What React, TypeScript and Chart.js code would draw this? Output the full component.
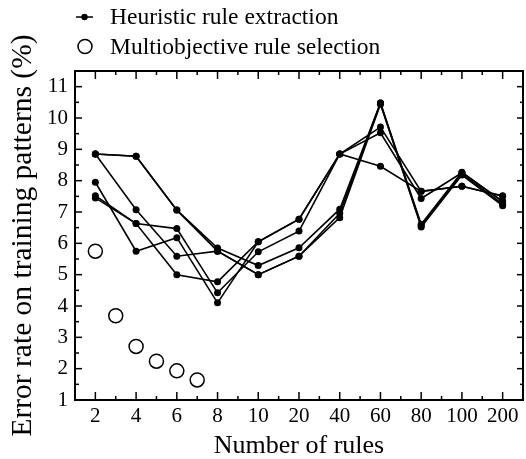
import React, { useEffect, useRef } from "react";
import { Chart, registerables } from "chart.js";

Chart.register(...registerables);

// Category axis (number of rules)
const CATEGORIES = ["2", "4", "6", "8", "10", "20", "40", "60", "80", "100", "200"];

// Heuristic rule extraction: six curves (error rate %, one value per category)
const HEURISTIC_1 = [8.85, 8.78, 7.06, 5.85, 5.29, 5.86, 7.09, 10.48, 6.61, 8.27, 7.32];
const HEURISTIC_2 = [8.85, 8.78, 7.06, 5.75, 5.0, 5.59, 6.96, 10.48, 6.52, 8.18, 7.2];
const HEURISTIC_3 = [8.85, 7.07, 5.59, 5.75, 5.0, 5.59, 6.82, 10.44, 6.56, 8.22, 7.25];
const HEURISTIC_4 = [7.95, 5.75, 6.18, 4.1, 6.05, 6.77, 8.85, 9.71, 7.66, 7.82, 7.52];
const HEURISTIC_5 = [7.52, 6.63, 6.47, 4.42, 5.73, 6.39, 8.85, 9.53, 7.43, 8.25, 7.35];
const HEURISTIC_6 = [7.45, 6.63, 5.0, 4.77, 6.05, 6.77, 8.85, 8.46, 7.66, 7.82, 7.5];

// Multiobjective rule selection: number of rules and error rate
const MULTI_RULES = [2, 3, 4, 5, 6, 7];
const MULTI_ERROR = [5.75, 3.69, 2.71, 2.24, 1.93, 1.64];

const Y_TICKS = [1, 2, 3, 4, 5, 6, 7, 8, 9, 10, 11];

const LABEL_HEURISTIC = "Heuristic rule extraction";
const LABEL_MULTI = "Multiobjective rule selection";

const FONT = "'Liberation Serif', 'Times New Roman', serif";

// position of a rule count on the category axis (interpolated between neighbouring categories)
function rulePosition(r: number): number {
  const nums = CATEGORIES.map(Number);
  for (let i = 0; i < nums.length - 1; i++) {
    if (r >= nums[i] && r <= nums[i + 1]) {
      return i + (r - nums[i]) / (nums[i + 1] - nums[i]);
    }
  }
  return nums.length - 1;
}

const framePlugin = {
  id: "frame",
  afterDatasetsDraw(chart: any) {
    const { ctx, chartArea, scales } = chart;
    const { left, right, top, bottom } = chartArea;
    const x = scales.x;
    const y = scales.y;
    ctx.save();
    ctx.strokeStyle = "#000";
    const seg = (x1: number, y1: number, x2: number, y2: number) => {
      ctx.beginPath();
      ctx.moveTo(x1, y1);
      ctx.lineTo(x2, y2);
      ctx.stroke();
    };
    ctx.lineWidth = 1.5;
    CATEGORIES.forEach((_, i) => {
      const px = x.getPixelForValue(i);
      seg(px, bottom, px, bottom - 8);
      seg(px, top, px, top + 8);
      if (i < CATEGORIES.length - 1) {
        const mx = x.getPixelForValue(i + 0.5);
        seg(mx, bottom, mx, bottom - 4);
        seg(mx, top, mx, top + 4);
      }
    });
    Y_TICKS.forEach((v) => {
      const py = y.getPixelForValue(v);
      seg(left, py, left + 7, py);
      seg(right, py, right - 6, py);
      const my = y.getPixelForValue(v + 0.5);
      if (my > top + 1) {
        seg(left, my, left + 4, my);
        seg(right, my, right - 3, my);
      }
    });
    ctx.lineWidth = 2;
    ctx.strokeRect(left, top, right - left, bottom - top);
    ctx.restore();
  },
};

const legendPlugin = {
  id: "customLegend",
  afterDraw(chart: any) {
    const { ctx } = chart;
    const ds = chart.data.datasets;
    ctx.save();
    ctx.fillStyle = "#000";
    ctx.strokeStyle = "#000";
    ctx.font = `23.5px ${FONT}`;
    ctx.textBaseline = "middle";
    ctx.textAlign = "left";
    // row 1: line with dot
    const y1 = 17;
    ctx.lineWidth = 1.5;
    ctx.beginPath();
    ctx.moveTo(76, y1);
    ctx.lineTo(93, y1);
    ctx.stroke();
    ctx.beginPath();
    ctx.arc(84.5, y1, 3.2, 0, Math.PI * 2);
    ctx.fill();
    ctx.fillText(ds[0].label, 110, y1 + 1);
    // row 2: open circle
    const y2 = 46.5;
    ctx.beginPath();
    ctx.arc(85, y2, 7, 0, Math.PI * 2);
    ctx.stroke();
    ctx.fillText(ds[ds.length - 1].label, 110, y2 + 1);
    ctx.restore();
  },
};

export default function App() {
  const canvasRef = useRef<HTMLCanvasElement | null>(null);

  useEffect(() => {
    if (!canvasRef.current) return;
    const series = [HEURISTIC_1, HEURISTIC_2, HEURISTIC_3, HEURISTIC_4, HEURISTIC_5, HEURISTIC_6];
    const lineSets = series.map((vals, k) => ({
      label: k === 0 ? LABEL_HEURISTIC : `${LABEL_HEURISTIC} ${k + 1}`,
      data: vals.map((v, i) => ({ x: i, y: v })),
      showLine: true,
      borderColor: "#000",
      borderWidth: 1.6,
      pointRadius: 3.5,
      pointBackgroundColor: "#000",
      pointBorderColor: "#000",
      pointBorderWidth: 0,
      tension: 0,
    }));
    const multiSet = {
      label: LABEL_MULTI,
      data: MULTI_RULES.map((r, i) => ({ x: rulePosition(r), y: MULTI_ERROR[i] })),
      showLine: false,
      pointRadius: 7,
      pointBorderWidth: 1.5,
      pointBorderColor: "#000",
      pointBackgroundColor: "rgba(255,255,255,0)",
    };

    const chart = new Chart(canvasRef.current, {
      type: "scatter",
      data: { datasets: [...lineSets, multiSet] as any },
      options: {
        animation: false,
        responsive: true,
        maintainAspectRatio: false,
        layout: { autoPadding: false, padding: { top: 71, right: 3, left: 0, bottom: 0 } },
        plugins: { legend: { display: false }, tooltip: { enabled: false } },
        scales: {
          x: {
            type: "linear",
            min: -0.5,
            max: CATEGORIES.length - 0.5,
            afterBuildTicks: (scale: any) => {
              scale.ticks = CATEGORIES.map((_, i) => ({ value: i }));
            },
            afterFit: (scale: any) => {
              scale.height = 59;
              scale.paddingLeft = 0;
              scale.paddingRight = 0;
            },
            grid: { display: false, drawTicks: false },
            border: { display: false },
            ticks: {
              autoSkip: false,
              maxRotation: 0,
              padding: 4,
              color: "#000",
              font: { family: FONT, size: 21 },
              callback: (v: any) => CATEGORIES[Math.round(Number(v))] ?? "",
            },
            title: {
              display: true,
              text: "Number of rules",
              color: "#000",
              font: { family: FONT, size: 26, lineHeight: 1 },
              padding: { top: 0, bottom: 0 },
            },
          },
          y: {
            type: "linear",
            min: 1,
            max: 11.5,
            afterBuildTicks: (scale: any) => {
              scale.ticks = Y_TICKS.map((v) => ({ value: v }));
            },
            afterFit: (scale: any) => {
              scale.width = 75;
              scale.paddingTop = 0;
              scale.paddingBottom = 0;
            },
            grid: { display: false, drawTicks: false },
            border: { display: false },
            ticks: {
              padding: 7,
              color: "#000",
              font: { family: FONT, size: 21 },
              callback: (v: any) => String(v),
            },
            title: {
              display: true,
              text: "Error rate on training patterns (%)",
              color: "#000",
              font: { family: FONT, size: 29.5, lineHeight: 1 },
              padding: { top: 8, bottom: 0 },
            },
          },
        },
      },
      plugins: [framePlugin, legendPlugin],
    } as any);
    return () => chart.destroy();
  }, []);

  return (
    <div style={{ position: "fixed", left: 0, top: 0, width: 526, height: 459, background: "#fff" }}>
      <canvas ref={canvasRef} />
    </div>
  );
}
